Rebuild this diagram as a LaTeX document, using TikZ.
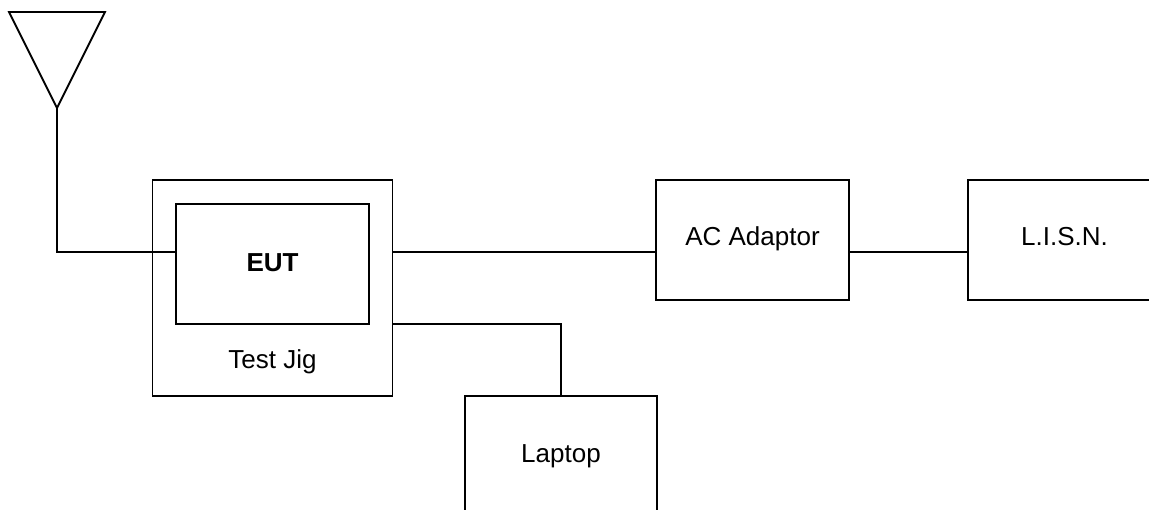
\documentclass[tikz,border=0pt]{standalone}
\usepackage{fontspec}
\setmainfont{Liberation Sans}
\usetikzlibrary{positioning}

\begin{document}
\begin{tikzpicture}[
        x=1pt,
        y=-1pt,
        on grid,
        line width=1.8pt,
        font=\fontsize{26}{30}\selectfont,
        label text/.style={text height=18pt, text depth=6pt, inner sep=0pt},
        block/.style={draw, rectangle, label text, outer sep=0pt, minimum width=192.5pt, minimum height=120pt}
        ]
            \path[use as bounding box, clip] (0,0) rectangle (1149,510);

            \node[block, minimum width=240pt, minimum height=216pt] (JIG) at (272.5,288) {};
            \node[block, text depth=2.5pt, above=24pt of JIG] (EUT) {\textbf{EUT}};
            \node[label text, below=98.7pt of EUT] (JIGTEXT) {Test Jig};
            \node[block, right=480pt of JIG, yshift=48pt] (AC) {AC Adaptor};
            \node[block, right=312pt of AC] (LISN) {L.I.S.N.};
            \node[block, text depth=4.6pt, below right=168pt and 288.5pt of JIG] (LAPTOP) {Laptop};

            \coordinate (TIP) at (57,108);
            \coordinate (LEFT) at (9,12);
            \coordinate (RIGHT) at (105,12);
            \coordinate (BUS) at (0,252);
            \coordinate (LOW) at (0,324);

            \draw (LEFT) -- (RIGHT) -- (TIP) -- cycle;
            \draw (TIP) |- (EUT.west |- BUS);
            \draw (JIG.east |- BUS) -- (AC.west |- BUS);
            \draw (AC.east |- BUS) -- (LISN.west |- BUS);
            \draw (JIG.east |- LOW) -| (LAPTOP.north);
        \end{tikzpicture}
\end{document}
